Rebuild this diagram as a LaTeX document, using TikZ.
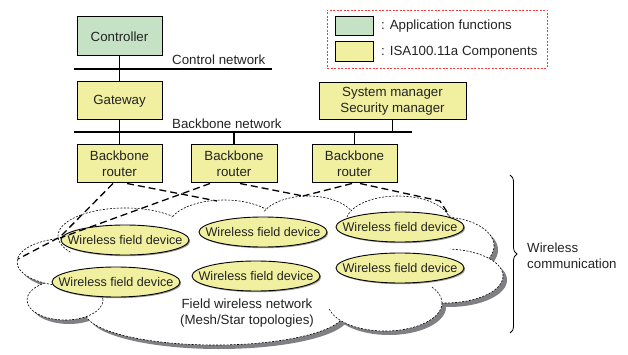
\documentclass[tikz,border=0pt]{standalone}
\usepackage{fontspec}
\setmainfont{Liberation Sans}
\usetikzlibrary{decorations.pathreplacing,shapes.geometric,shadows}
\definecolor{appgreen}{RGB}{197,226,196}
\definecolor{isayel}{RGB}{241,240,160}
\definecolor{txt}{RGB}{35,35,35}
\definecolor{shad}{RGB}{128,128,132}
\definecolor{legred}{RGB}{240,60,60}
\begin{document}
\begin{tikzpicture}[x=1pt,y=-1pt,
  every node/.style={text=txt, font=\fontsize{13.3}{16}\selectfont},
  box/.style={draw=black, line width=1pt, inner sep=0pt, align=center},
  plain/.style={inner sep=0pt},
  dev/.style={ellipse, draw=black, line width=0.9pt, fill=isayel, inner xsep=-14pt, inner ysep=0pt,
    minimum width=128pt, minimum height=30pt, font=\fontsize{12.6}{15}\selectfont,
    drop shadow={shadow xshift=1.2pt, shadow yshift=-1.2pt, fill=black!40, opacity=1}},
  bus/.style={line width=1.5pt},
  link/.style={line width=1.5pt},
  wl/.style={line width=1.3pt, dash pattern=on 7pt off 4pt},
  puff/.style={fill=white, draw=black, line width=0.6pt, dash pattern=on 2pt off 1.5pt},
]
\useasboundingbox (0,0) rectangle (628,355);

% legend
\node[draw=legred, line width=0.8pt, dash pattern=on 2pt off 1.5pt, minimum width=220pt, minimum height=58pt, inner sep=0pt] (leg) at (437,39) {};
\node[box, fill=appgreen, minimum width=38pt, minimum height=19pt] (sw1) at (354,26.5) {};
\node[box, fill=isayel, minimum width=38pt, minimum height=20pt] (sw2) at (354,52) {};
\node[plain, anchor=west] (lt1) at (381,26.5) {: Application functions};
\node[plain, anchor=west] (lt2) at (381,52) {: ISA100.11a Components};

% boxes
\node[box, fill=appgreen, minimum width=85pt, minimum height=39pt] (ctrl) at (119.5,36.5) {Controller};
\node[box, fill=isayel, minimum width=85pt, minimum height=38pt] (gw) at (119.5,101) {Gateway};
\node[box, fill=isayel, minimum width=147pt, minimum height=37pt] (sm) at (392.5,101.5) {System manager\\Security manager};
\node[box, fill=isayel, minimum width=85pt, minimum height=38pt] (r1) at (119.5,164) {Backbone\\router};
\node[box, fill=isayel, minimum width=86pt, minimum height=38pt] (r2) at (234,164) {Backbone\\router};
\node[box, fill=isayel, minimum width=85pt, minimum height=38pt] (r3) at (354.5,164) {Backbone\\router};

% networks
\coordinate (cnL) at (74,69);
\coordinate (cnR) at (272,69);
\draw[bus] (cnL) -- (cnR);
\node[plain, anchor=west] (cnlab) at (172,59.5) {Control network};
\draw[link] (ctrl.south) -- (gw.north);

\coordinate (bbL) at (74,132);
\coordinate (bbR) at (412,132);
\draw[bus] (bbL) -- (bbR);
\node[plain, anchor=west] (bblab) at (172,124) {Backbone network};
\draw[link] (gw.south) -- (r1.north);
\draw[link] (sm.south) -- (sm.south |- bbL);
\draw[link] (r2.north) -- (r2.north |- bbL);
\draw[link] (r3.north) -- (r3.north |- bbL);

% cloud shadow
\foreach \cx/\cy/\rx/\ry in {215/312/130/33, 65/300/38/20, 70/262/53/24, 125/236/67/28,
    224/226/55/26, 308/222/48/26, 398/222/52/26, 442/246/52/29, 445/276/58/27, 385/303/57/28}
  \fill[shad] (\cx+4,\cy+4) ellipse [x radius=\rx pt, y radius=\ry pt];
% cloud puffs
\foreach \cx/\cy/\rx/\ry in {215/312/130/33, 65/300/38/20, 70/262/53/24, 125/236/67/28,
    224/226/55/26, 308/222/48/26, 398/222/52/26, 442/246/52/29, 445/276/58/27, 385/303/57/28}
  \draw[puff] (\cx,\cy) ellipse [x radius=\rx pt, y radius=\ry pt];
\fill[white] (262,262) ellipse [x radius=195pt, y radius=50pt];

% wireless devices
\node[dev] (d1) at (125,240) {Wireless field device};
\node[dev] (d2) at (263,232) {Wireless field device};
\node[dev] (d3) at (400,227) {Wireless field device};
\node[dev] (d4) at (116,282) {Wireless field device};
\node[dev] (d5) at (256,276) {Wireless field device};
\node[dev] (d6) at (400,268) {Wireless field device};

\node[plain, align=center] (fwn) at (247,313.5) {Field wireless network\\(Mesh/Star topologies)};

% router-to-cloud links
\coordinate (r1a) at ([xshift=-6.5pt]r1.south);
\coordinate (r1b) at ([xshift=7.5pt]r1.south);
\coordinate (r2a) at ([xshift=-24pt]r2.south);
\coordinate (r2b) at ([xshift=6pt]r2.south);
\coordinate (r3a) at ([xshift=-2.5pt]r3.south);
\coordinate (r3b) at ([xshift=5.5pt]r3.south);
\coordinate (k1) at (60,237);
\coordinate (e1) at (18,259);
\coordinate (e2) at (60,238);
\coordinate (e3) at (217,201);
\coordinate (e4) at (303,196);
\coordinate (k5) at (440,201);
\coordinate (e5) at (447,212);
\draw[wl] (r1a) -- (k1) -- (e1);
\draw[wl] (r2a) -- (e2);
\draw[wl] (r1b) -- (e3);
\draw[wl] (r2b) -- (e4);
\draw[wl] (r3a) -- (e4);
\draw[wl] (r3b) -- (k5) -- (e5);

% brace
\coordinate (bt) at (510,175);
\coordinate (bb) at (510,333);
\draw[decorate, decoration={brace, amplitude=7pt}, line width=0.8pt] (bt) -- (bb);
\node[plain, anchor=west, align=left] (wc) at (527,256) {Wireless\\communication};
\end{tikzpicture}
\end{document}
